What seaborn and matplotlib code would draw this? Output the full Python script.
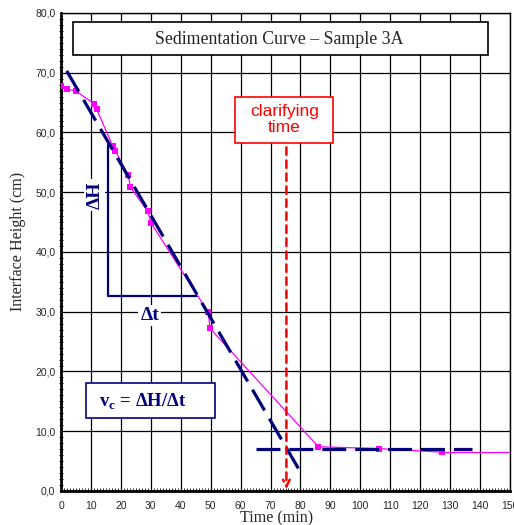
import matplotlib
matplotlib.use("Agg")
import matplotlib.pyplot as plt
import matplotlib.ticker as mtick
from matplotlib.patches import Rectangle
import pandas as pd
import seaborn as sns

# measured points (time in min, interface height in cm)
time_min = [0, 1.9, 5, 11.1, 11.9, 17.3, 18.2, 22.5, 23.2, 29, 30, 49.2, 49.8, 86, 106.1, 127.3]
height_cm = [67.8, 67.3, 66.9, 64.8, 63.9, 57.7, 56.9, 52.8, 50.8, 46.8, 44.9, 29.9, 27.2, 7.4, 7.1, 6.5]
# curve continues flat to the right edge
tail_time = [127.3, 150]
tail_height = [6.5, 6.5]

# construction lines
slope_t = [1.9, 79.5]
slope_h = [70.3, 3.6]
final_t = [65, 137.3]
final_h = [7.0, 7.0]
tri_t = [15.6, 15.6, 45.4]
tri_h = [57.9, 32.6, 32.6]
clarify_t = 75.3

NAVY = "#00007a"
PINK = "#ff00ff"
RED = "#ff0000"
SERIF = ["Liberation Serif", "DejaVu Serif"]

sns.set_theme(style="white")
plt.rcParams["font.family"] = ["Liberation Sans", "DejaVu Sans"]


def _box(ax, x0, y0, x1, y1, color):
    # frame given in axes fractions
    ax.add_patch(Rectangle((x0, y0), x1 - x0, y1 - y0, transform=ax.transAxes,
                           fc="white", ec=color, lw=1.2, zorder=6))


df = pd.DataFrame({"t": time_min, "h": height_cm})

fig = plt.figure(figsize=(5.14, 5.25), dpi=100)
ax = fig.add_axes([0.1187, 0.0648, 0.8735, 0.9105])

sns.lineplot(data=df, x="t", y="h", color=PINK, lw=0.9, marker="s", markersize=4.5,
             markeredgewidth=0, ax=ax, zorder=4)
ax.plot(tail_time, tail_height, color=PINK, lw=0.9, zorder=4)

ax.plot(slope_t, slope_h, color=NAVY, lw=2.3, dashes=(7.5, 3.0), zorder=5)
ax.plot(final_t, final_h, color=NAVY, lw=2.3, dashes=(7.5, 2.8), zorder=5)
ax.plot(tri_t, tri_h, color=NAVY, lw=1.6, zorder=3)

ax.annotate("", xy=(clarify_t, 0.3), xytext=(clarify_t, 57.5),
            arrowprops=dict(arrowstyle="->", color=RED, lw=1.8, ls=(0, (3, 2.2)),
                            mutation_scale=12, shrinkA=0, shrinkB=0), zorder=6)

# clarifying time label
_box(ax, 0.3875, 0.728, 0.6058, 0.824, RED)
ax.text(74.6, 62.2, "clarifying\ntime", color=RED, fontsize=12.5, ha="center", va="center",
        linespacing=1.05, zorder=7)

# title box
_box(ax, 0.027, 0.912, 0.951, 0.981, "black")
ax.text(72.9, 75.6, "Sedimentation Curve \u2013 Sample 3A", fontsize=12.8, ha="center",
        va="center", family=SERIF, zorder=7)

ax.text(11.3, 49.5, "\u0394H", rotation=90, color=NAVY, fontsize=14, fontweight="bold",
        ha="center", va="center", family=SERIF,
        bbox=dict(fc="white", ec="none", pad=1.5), zorder=6)
ax.text(29.7, 29.4, "\u0394t", color=NAVY, fontsize=14, fontweight="bold",
        ha="center", va="center", family=SERIF,
        bbox=dict(fc="white", ec="none", pad=1.5), zorder=6)

# settling velocity box
_box(ax, 0.0557, 0.1527, 0.343, 0.226, NAVY)
ax.text(27.3, 15.0, "v$_\\mathregular{c}$ = \u0394H/\u0394t",
        color=NAVY, fontsize=13.5, fontweight="bold", ha="center", va="center",
        family=SERIF, zorder=7)

ax.set_xlim(0, 150)
ax.set_ylim(0, 80)
ax.xaxis.set_major_locator(mtick.MultipleLocator(10))
ax.yaxis.set_major_locator(mtick.MultipleLocator(10))
ax.xaxis.set_minor_locator(mtick.MultipleLocator(1))
ax.yaxis.set_minor_locator(mtick.MultipleLocator(1))
ax.yaxis.set_major_formatter(mtick.FuncFormatter(lambda v, _: f"{v:.1f}".replace(".", ",")))
ax.grid(True, which="major", color="black", lw=0.9)
ax.set_axisbelow(True)
ax.tick_params(axis="both", which="major", labelsize=7.5, length=4, width=1,
               direction="inout", color="black", pad=2)
ax.tick_params(axis="x", which="major", pad=5)
ax.tick_params(axis="x", which="minor", length=2.5, width=0.6, direction="in", color="black",
               bottom=True)
ax.tick_params(axis="y", which="minor", length=2.5, width=0.6, direction="inout", color="black",
               left=True)
for side, sp in ax.spines.items():
    sp.set_color("black")
    sp.set_linewidth(2 if side in ("left", "bottom") else 1)

ax.set_xlabel("Time (min)", fontsize=11.6, family=SERIF, va="center")
ax.set_ylabel("Interface Height (cm)", fontsize=11.6, family=SERIF, va="center")
ax.xaxis.set_label_coords(0.48, -0.0565)
ax.yaxis.set_label_coords(-0.096, 0.523)

fig.savefig("out.png", dpi=100)
